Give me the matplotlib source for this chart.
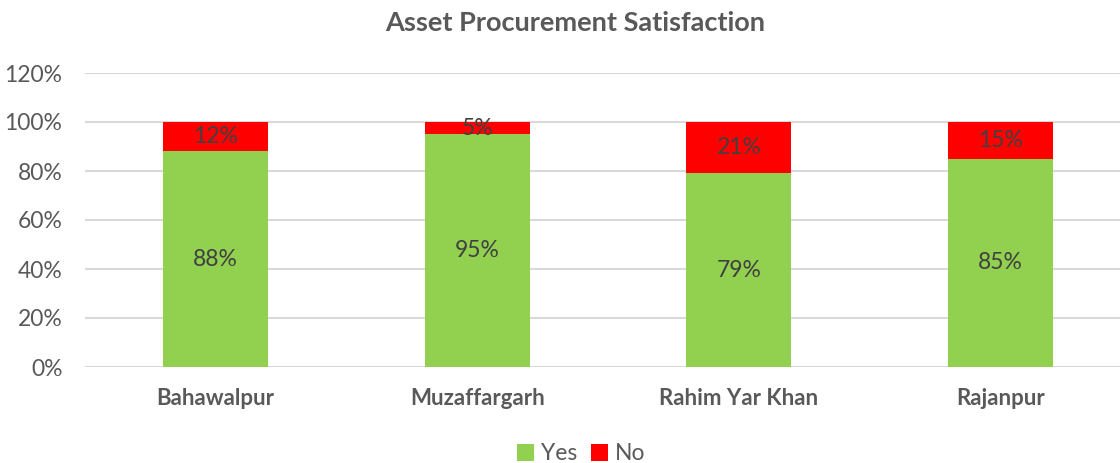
import matplotlib.pyplot as plt
import numpy as np
from matplotlib.patches import Patch

plt.rcParams['font.family'] = ['Lato', 'DejaVu Sans']

categories = ['Bahawalpur', 'Muzaffargarh', 'Rahim Yar Khan', 'Rajanpur']
yes_vals = [88, 95, 79, 85]
no_vals = [12, 5, 21, 15]
yticks = [0, 20, 40, 60, 80, 100, 120]

green = '#92D050'
red = '#FF0000'
gray = '#595959'
label_col = '#404040'

fig = plt.figure(figsize=(11.2, 4.63), dpi=100)
ax = fig.add_axes([84.7/1120, 96/463, 1046.6/1120, 294/463])

x = np.arange(len(categories))
w = 0.40
ax.bar(x, yes_vals, w, color=green, zorder=3)
ax.bar(x, no_vals, w, bottom=yes_vals, color=red, zorder=3)

for xi, yv, nv in zip(x, yes_vals, no_vals):
    ax.text(xi, yv / 2, f'{yv}%', ha='center', va='center', fontsize=16.5, color=label_col, zorder=4)
    ax.text(xi, yv + nv / 2, f'{nv}%', ha='center', va='center', fontsize=16.5, color=label_col, zorder=4)

ax.set_xlim(-0.5, len(categories) - 0.5)
ax.set_ylim(0, 120)
ax.set_yticks(yticks)
ax.set_yticklabels([f'{t}%' for t in yticks], fontsize=16.5, color=gray)
ax.set_xticks(x)
ax.set_xticklabels(categories, fontsize=16, fontweight='bold', color=gray)
ax.tick_params(axis='both', length=0)
ax.tick_params(axis='y', pad=16)
ax.tick_params(axis='x', pad=15)
ax.grid(axis='y', color='#D9D9D9', linewidth=1.5, zorder=0)
for s in ax.spines.values():
    s.set_visible(False)

fig.text(575/1120, 1 - 23/463, 'Asset Procurement Satisfaction', ha='center', va='center',
         fontsize=19.5, fontweight='bold', color=gray)

handles = [Patch(facecolor=green, label='Yes'), Patch(facecolor=red, label='No')]
fig.legend(handles=handles, loc='center', bbox_to_anchor=(581/1120, 1 - 454/463), ncol=2,
           frameon=False, fontsize=16.5, handlelength=0.75, handleheight=0.75, handletextpad=0.3,
           columnspacing=0.6, labelcolor=gray)

fig.savefig('out.png', dpi=100)
